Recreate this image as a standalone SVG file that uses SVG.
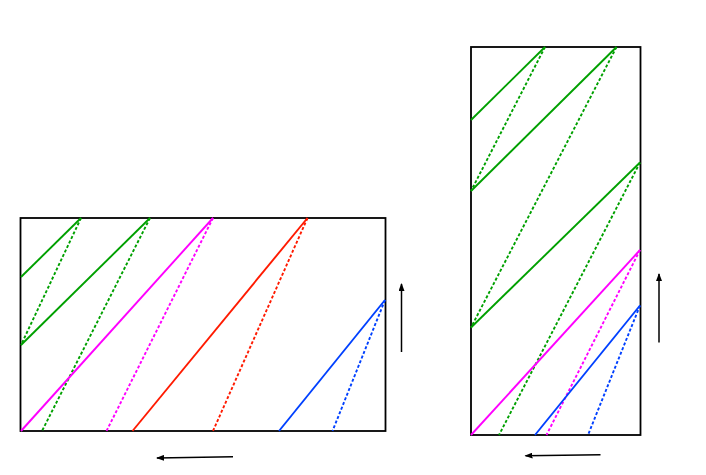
<svg xmlns="http://www.w3.org/2000/svg" width="706" height="475" viewBox="0 0 706 475">
<defs>
<style>
.box{fill:#fff;stroke:#000;stroke-width:1.8}
.s{fill:none;stroke-width:1.9}
.d{fill:none;stroke-width:1.9;stroke-dasharray:3 2}
.g{stroke:#00a000}
.m{stroke:#ff00ff}
.r{stroke:#ff1a00}
.b{stroke:#0040ff}
.arr{fill:none;stroke:#000;stroke-width:1.5;marker-end:url(#ah)}
</style>
<marker id="ah" markerWidth="8" markerHeight="6" refX="7" refY="3" orient="auto" markerUnits="userSpaceOnUse">
<path d="M0,0 L8,3 L0,6 z" fill="#000"/>
</marker>
</defs>
<rect width="706" height="475" fill="#fff"/>
<g id="left-box">
<rect class="box" x="20.5" y="218" width="365" height="213"/>
<line class="s g" x1="21" y1="277" x2="81" y2="218"/>
<line class="d g" x1="81" y1="218" x2="21" y2="345"/>
<line class="s g" x1="21" y1="345" x2="150" y2="218"/>
<line class="d g" x1="150" y1="218" x2="42" y2="431"/>
<line class="s m" x1="21" y1="431" x2="213" y2="218"/>
<line class="d m" x1="213" y1="218" x2="106.5" y2="431"/>
<line class="s r" x1="132.5" y1="431" x2="307.5" y2="218"/>
<line class="d r" x1="307.5" y1="218" x2="213" y2="431"/>
<line class="s b" x1="279" y1="431" x2="385" y2="300"/>
<line class="d b" x1="385" y1="300" x2="332.5" y2="431"/>
</g>
<g id="right-box">
<rect class="box" x="471" y="47" width="169.5" height="388"/>
<line class="s g" x1="471" y1="120" x2="545" y2="47"/>
<line class="d g" x1="545" y1="47" x2="471" y2="191"/>
<line class="s g" x1="471" y1="191" x2="616.5" y2="47"/>
<line class="d g" x1="616.5" y1="47" x2="471" y2="327.5"/>
<line class="s g" x1="471" y1="327.5" x2="640" y2="162.5"/>
<line class="d g" x1="640" y1="162.5" x2="499" y2="435"/>
<line class="s m" x1="471" y1="435" x2="640" y2="250"/>
<line class="d m" x1="640" y1="250" x2="546.5" y2="435"/>
<line class="s b" x1="535" y1="435" x2="640" y2="305.5"/>
<line class="d b" x1="640" y1="305.5" x2="588" y2="435"/>
</g>
<g id="connectors">
<line class="arr" x1="401.5" y1="352" x2="401.5" y2="284"/>
<line class="arr" x1="233" y1="456.7" x2="157" y2="458"/>
<line class="arr" x1="659" y1="342.5" x2="659" y2="274"/>
<line class="arr" x1="600.5" y1="454.7" x2="525.5" y2="455.7"/>
</g>
</svg>
